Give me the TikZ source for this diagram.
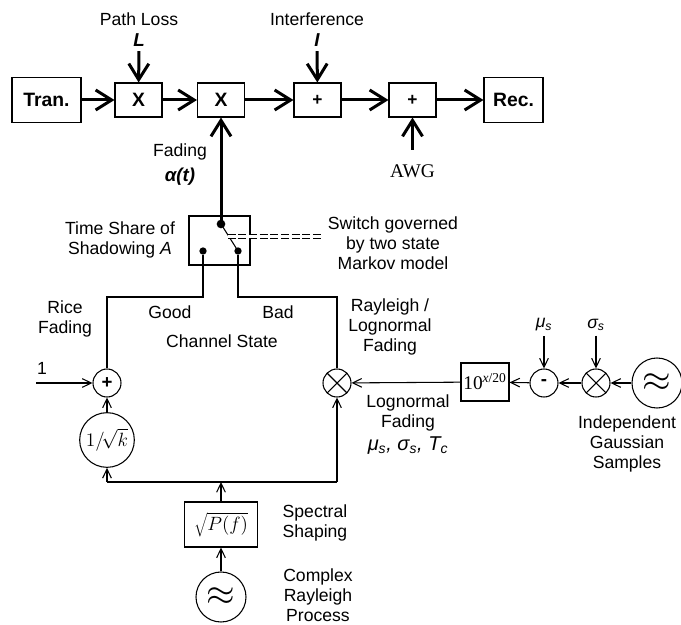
\documentclass[tikz,border=0pt]{standalone}
\usepackage{fontspec}
\setmainfont{Liberation Sans}
\newfontfamily\serif{Liberation Serif}
\usepackage{tikz}
\usetikzlibrary{arrows.meta}

\begin{document}
\begin{tikzpicture}[
  x=0.75pt, y=-0.75pt,
  font=\fontsize{13.2}{15}\selectfont,
  block/.style={
    draw,
    line width=0.8pt,
    inner sep=0pt,
    minimum width=35.25pt,
    minimum height=25.5pt,
    font=\fontsize{14.5}{16}\selectfont\bfseries
  },
  term/.style={block, minimum height=33.75pt},
  adder/.style={
    circle,
    draw,
    line width=0.8pt,
    inner sep=0pt,
    minimum size=21pt,
    font=\fontsize{14}{16}\selectfont\bfseries
  },
  mixer/.style={
    adder,
    path picture={
      \draw[line width=0.8pt]
        (path picture bounding box.north west) -- (path picture bounding box.south east)
        (path picture bounding box.north east) -- (path picture bounding box.south west);
    }
  },
  source/.style={adder, minimum size=37.5pt, font=\fontsize{13.2}{15}\selectfont},
  dot/.style={circle, fill, inner sep=0pt, minimum size=5.5pt},
  note/.style={align=center},
  symb/.style={font=\fontsize{13.2}{15}\selectfont\itshape},
  wire/.style={line width=0.8pt},
  flow/.style={-{Straight Barb[length=6.75pt,width=6.5pt]}, line width=0.8pt},
  broadflow/.style={-{Straight Barb[length=12pt,width=15pt]}, line width=2.25pt}
]

\useasboundingbox (0,0) rectangle (681,624);

\node[term, minimum width=51.75pt] (tran) at (46.5,100) {Tran.};
\node[block] (loss) at (138.5,100) {X};
\node[block] (fade) at (221,100) {X};
\node[block, font=\fontsize{13}{14}\selectfont\bfseries] (intf) at (317.5,100) {+};
\node[block, font=\fontsize{13}{14}\selectfont\bfseries] (noise) at (412.5,100) {+};
\node[term, minimum width=44.25pt] (rec) at (513.5,100) {Rec.};

\node (losslabel) at (139,19) {Path Loss};
\node[font=\fontsize{14}{16}\selectfont\bfseries\itshape] (lossL) at (139,40) {L};
\node (intflabel) at (317,19) {Interference};
\node[font=\fontsize{14}{16}\selectfont\bfseries\itshape] (intfI) at (317,40) {I};
\node[font={\serif\fontsize{14.5}{16}\selectfont}] (awg) at (412.5,171) {AWG};
\coordinate (awgin) at (412.5,150);

\node (fadelabel) at (180,152) {Fading};
\node[font=\fontsize{14}{16}\selectfont\bfseries\itshape] (alpha) at (180,177) {α(t)};

\node[draw, line width=0.8pt, minimum width=45.75pt, minimum height=36.75pt] (switch) at (219.5,240.5) {};
\node[dot, minimum size=6.5pt] (swtop) at (221,224) {};
\node[dot] (swgood) at (203,251) {};
\node[dot] (swbad) at (238,251) {};
\coordinate (lever) at (227.5,236.5);
\coordinate (markov) at (323,236.5);

\node[note] (sharelabel) at (120,240) {Time Share of\\Shadowing \textit{A}};
\node[note] (markovlabel) at (393,243) {Switch governed\\by two state\\Markov model};

\node[note] (ricelabel) at (65,319) {Rice\\Fading};
\node (good) at (170,312) {Good};
\node (bad) at (278,312) {Bad};
\node (state) at (222,341) {Channel State};
\node[note] (rayllabel) at (390,327) {Rayleigh /\\Lognormal\\Fading};
\coordinate (stateline) at (0,297);

\node[adder] (addr) at (107,383) {+};
\node (one) at (42,368) {1};
\coordinate (onein) at (36,383);
\node[adder, minimum size=41pt, font=\fontsize{13.5}{15}\selectfont] (scale) at (107,440) {$1/\!\sqrt{k}$};

\node[mixer] (mixa) at (337,383) {};
\node[block, minimum width=36pt, minimum height=28.5pt, font={\serif\fontsize{14.5}{16}\selectfont}] (expo) at (485,382)
  {10\textsuperscript{\textit{x}/20}};
\node[adder] (minus) at (544,383) {-};
\node[mixer] (mixb) at (596,383) {};
\node[source] (gauss) at (657,383) {\scalebox{2.3}{$\approx$}};
\node[symb] (mus) at (544,325) {μ\textsubscript{s}};
\node[symb] (sigs) at (596,325) {σ\textsubscript{s}};

\node[note] (lognlabel) at (408,413) {Lognormal\\Fading};
\node[symb, font=\fontsize{15}{17}\selectfont\itshape] (lognparams) at (408,446)
  {μ\textsubscript{s}, σ\textsubscript{s}, T\textsubscript{c}};
\node[note] (gausslabel) at (627,444) {Independent\\Gaussian\\Samples};

\coordinate (feedline) at (0,482);
\node[block, minimum width=54.75pt, minimum height=33.75pt, font=\fontsize{14}{16}\selectfont] (shaping) at (221,524.5)
  {$\sqrt{P(f)}$};
\node[source] (rayleigh) at (221,597) {\scalebox{2.3}{$\approx$}};
\node[note] (shapelabel) at (315,523) {Spectral\\Shaping};
\node[note] (rayleighlabel) at (318,595) {Complex\\Rayleigh\\Process};

\draw[broadflow] (tran) -- (loss);
\draw[broadflow] (loss) -- (fade);
\draw[broadflow] (fade) -- (intf);
\draw[broadflow] (intf) -- (noise);
\draw[broadflow] (noise) -- (rec);
\draw[broadflow] (lossL) -- (loss);
\draw[broadflow] (intfI) -- (intf);
\draw[broadflow] (awgin) -- (noise);
\draw[broadflow] (swtop.center) -- (fade);

\draw[wire] (swtop.center) -- (swbad.center);
\draw[double, double distance=2pt, line width=0.6pt, dash pattern=on 6pt off 2pt] (lever) -- (markov);

\draw[wire] (swgood) |- (stateline -| addr) -- (addr);
\draw[wire] (swbad) |- (stateline -| mixa) -- (mixa);

\draw[flow] (onein) -- (addr);
\draw[flow] (scale) -- (addr);

\draw[flow] (gauss) -- (mixb);
\draw[flow] (mixb) -- (minus);
\draw[flow] (minus) -- (expo);
\draw[flow] (expo) -- (mixa);
\draw[flow] (mus) -- (minus);
\draw[flow] (sigs) -- (mixb);

\draw[flow] (rayleigh) -- (shaping);
\draw[flow] (shaping) -- (shaping |- feedline);
\draw[wire] (scale |- feedline) -- (mixa |- feedline);
\draw[flow] (scale |- feedline) -- (scale);
\draw[flow] (mixa |- feedline) -- (mixa);

\end{tikzpicture}
\end{document}
